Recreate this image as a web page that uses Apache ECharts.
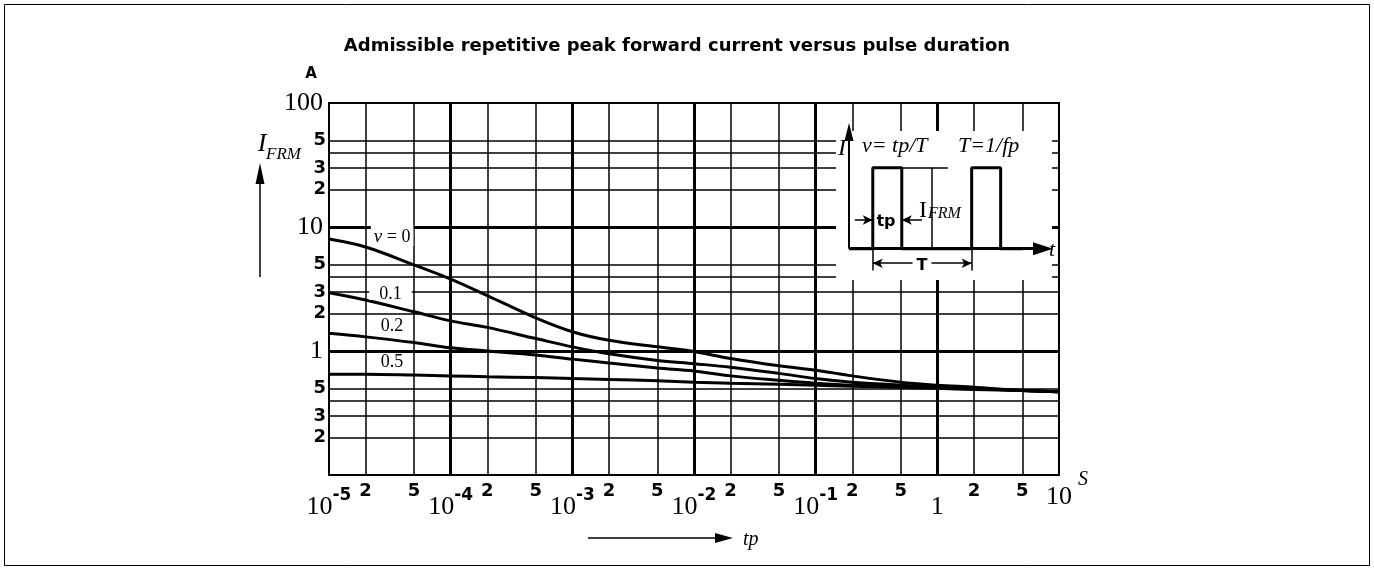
<!DOCTYPE html>
<html><head><meta charset="utf-8">
<script src="https://cdn.jsdelivr.net/npm/echarts@6/dist/echarts.min.js"></script>
<style>html,body{margin:0;padding:0;background:#fff}#c{width:1374px;height:570px}</style>
</head><body><div id="c"></div>
<script>
// pulse duration tp (s)
const tp = [1e-5,2e-5,5e-5,1e-4,2e-4,5e-4,1e-3,2e-3,5e-3,1e-2,2e-2,5e-2,1e-1,2e-1,5e-1,1,2,5,10];
// I_FRM (A) for each duty cycle v
const ifrmV0  = [8.0,6.9,4.95,3.8,2.8,1.85,1.43,1.22,1.08,0.99,0.87,0.76,0.70,0.63,0.56,0.53,0.51,0.48,0.47];
const ifrmV01 = [2.95,2.58,2.07,1.75,1.55,1.26,1.08,0.95,0.84,0.79,0.74,0.66,0.60,0.56,0.53,0.51,0.50,0.48,0.47];
const ifrmV02 = [1.39,1.30,1.17,1.06,1.0,0.93,0.86,0.80,0.73,0.69,0.63,0.58,0.55,0.53,0.52,0.51,0.50,0.48,0.47];
const ifrmV05 = [0.65,0.65,0.64,0.63,0.62,0.61,0.60,0.59,0.575,0.56,0.55,0.54,0.53,0.52,0.51,0.50,0.49,0.48,0.47];
const curveLabels = ['0.1','0.2','0.5'];
// minor grid ticks and labels
const xMinor = [2e-5,5e-5,2e-4,5e-4,2e-3,5e-3,2e-2,5e-2,2e-1,5e-1,2,5];
const xMinorLabels = ['2','5','2','5','2','5','2','5','2','5','2','5'];
const yMinor = [0.2,0.3,0.4,0.5,2,3,4,5,20,30,40,50];
const yMinorLabels = ['2','3','','5','2','3','','5','2','3','','5'];
// inset pulse schematic (time in tp-units, current in I_FRM units)
const pulseT = [0,0.82,0.82,1.82,1.82,4.23,4.23,5.23,5.23,6.0];
const pulseI = [0,0,1,1,0,0,1,1,0,0];

const SERIF = '"Liberation Serif","DejaVu Serif",serif';
const SANS = '"DejaVu Sans","Liberation Sans",sans-serif';

const chart = echarts.init(document.getElementById('c'), null, {renderer:'canvas'});

function mk(t, v){ return t.map((x,i)=>[x, v[i]]); }
function curve(v, lbl){
  return {type:'line', xAxisIndex:0, yAxisIndex:0, data: mk(tp, v), smooth:0.35, symbol:'none',
    lineStyle:{color:'#000', width:3}, z:3, silent:true, animation:false,
    markPoint: lbl ? {symbol:'rect', symbolSize:1, itemStyle:{color:'rgba(0,0,0,0)'}, z:4, silent:true, animation:false,
      data:[lbl]} : undefined};
}
function txt(x, y, text, font, align, extra){
  return Object.assign({type:'text', x:x, y:y, z:30, silent:true,
    style:Object.assign({text:text, font:font, fill:'#000', textAlign:align||'center', textVerticalAlign:'middle',
      align:align||'center', verticalAlign:'middle'}, extra||{})});
}

const gridLines = [];
xMinor.forEach((v,i)=>gridLines.push({xAxis:v, label:{show:true, formatter:xMinorLabels[i], position:'start', distance:7}}));
yMinor.forEach((v,i)=>gridLines.push({yAxis:v, label:{show: !!yMinorLabels[i], formatter:yMinorLabels[i] || ' ', position:'start', distance:3}}));

const option = {
  backgroundColor:'#fff',
  animation:false,
  grid:[
    {left:329, top:103, width:730, height:372, show:true, borderColor:'#000', borderWidth:2, backgroundColor:'transparent', outerBoundsMode:'none'},
    {left:849, top:132, width:194, height:145, show:false, outerBoundsMode:'none'}
  ],
  xAxis:[
    {type:'log', logBase:10, min:1e-5, max:10, gridIndex:0,
     axisLine:{show:true, onZero:false, lineStyle:{color:'#000', width:2}},
     axisTick:{show:false},
     splitLine:{show:true, showMinLine:false, showMaxLine:false, lineStyle:{color:'#000', width:3}},
     axisLabel:{margin:12, color:'#000',
       formatter:function(v){ const e = Math.round(Math.log10(v));
         if (e < 0) return '{b|10}{s|' + e + '}';
         if (e === 0) return '{b|1}';
         return '{c|10}'; },
       rich:{
         b:{fontFamily:SERIF, fontSize:26, lineHeight:40, color:'#000'},
         s:{fontFamily:SANS, fontWeight:'bold', fontSize:17, lineHeight:12, verticalAlign:'top', color:'#000'},
         c:{fontFamily:SERIF, fontSize:26, lineHeight:20, color:'#000'}
       }}},
    {type:'value', min:0, max:6.69, gridIndex:1, show:false}
  ],
  yAxis:[
    {type:'log', logBase:10, min:0.1, max:100, gridIndex:0,
     axisLine:{show:true, onZero:false, lineStyle:{color:'#000', width:2}},
     axisTick:{show:false},
     splitLine:{show:true, showMinLine:false, showMaxLine:false, lineStyle:{color:'#000', width:3}},
     axisLabel:{margin:6, color:'#000', fontFamily:SERIF, fontSize:26,
       formatter:function(v){ return v < 0.5 ? '' : String(Math.round(v)); }}},
    {type:'value', min:-0.35, max:1.44, gridIndex:1, show:false}
  ],
  series:[
    curve(ifrmV0, {coord:[3.3e-5, 8.55], label:{show:true, position:'inside', formatter:'{i|v}{n| = 0}',
      backgroundColor:'#fff', padding:[5,3,2,3],
      rich:{i:{fontFamily:SERIF, fontStyle:'italic', fontSize:19, lineHeight:14, color:'#000'},
            n:{fontFamily:SERIF, fontSize:18, lineHeight:14, color:'#000'}}}}),
    curve(ifrmV01, {coord:[3.2e-5, 2.88], label:{show:true, position:'inside', formatter:curveLabels[0],
      fontFamily:SERIF, fontSize:18, lineHeight:12, color:'#000', backgroundColor:'#fff', padding:[0,10,0,10]}}),
    curve(ifrmV02, {coord:[3.3e-5, 1.59], label:{show:true, position:'inside', formatter:curveLabels[1],
      fontFamily:SERIF, fontSize:18, color:'#000'}}),
    Object.assign(curve(ifrmV05, {coord:[3.3e-5, 0.81], label:{show:true, position:'inside', formatter:curveLabels[2],
      fontFamily:SERIF, fontSize:18, color:'#000'}}), {
      markLine:{silent:true, z:1, animation:false, symbol:['none','none'], precision:10,
        lineStyle:{color:'#000', width:1.5, type:'solid'},
        label:{show:true, color:'#000', fontFamily:SANS, fontWeight:'bold', fontSize:18},
        emphasis:{disabled:true},
        data:gridLines}
    }),
    {type:'line', xAxisIndex:1, yAxisIndex:1, data:mk(pulseT, pulseI), symbol:'none',
     lineStyle:{color:'#000', width:3}, z:20, silent:true, animation:false,
     markLine:{silent:true, z:20, animation:false, symbol:['none','none'], precision:10,
       lineStyle:{color:'#000', width:1.5, type:'solid'}, label:{show:false}, emphasis:{disabled:true},
       data:[
         [{coord:[0,0]},{coord:[0,1.44], symbol:'triangle', symbolSize:[9,18], lineStyle:{width:2}}],
         [{coord:[0,0], lineStyle:{width:3}},{coord:[6.69,0], symbol:'triangle', symbolSize:[13,20], lineStyle:{width:3}}],
         [{coord:[1.82,1]},{coord:[3.41,1]}],
         [{coord:[2.85,0]},{coord:[2.85,1]}],
         [{coord:[0.2,0.354]},{coord:[0.82,0.354], symbol:'arrow', symbolSize:[7,10]}],
         [{coord:[2.52,0.354]},{coord:[1.82,0.354], symbol:'arrow', symbolSize:[7,10]}],
         [{coord:[0.82,-0.18], symbol:'arrow', symbolSize:[7,10]},{coord:[4.23,-0.18], symbol:'arrow', symbolSize:[7,10]}],
         [{coord:[0.82,0]},{coord:[0.82,-0.27]}],
         [{coord:[4.23,0]},{coord:[4.23,-0.27]}]
       ]}}
  ],
  graphic:[
    {type:'rect', z:0, silent:true, shape:{x:4.5, y:4.5, width:1365, height:561}, style:{fill:'none', stroke:'#000', lineWidth:1}},
    {type:'rect', z:10, silent:true, shape:{x:836, y:131, width:216, height:149}, style:{fill:'#fff'}},
    txt(677, 46, 'Admissible repetitive peak forward current versus pulse duration', 'bold 18px ' + SANS),
    txt(311, 74, 'A', 'bold 15px ' + SANS),
    txt(262, 144, 'I', 'italic 26px ' + SERIF),
    txt(266, 155, 'FRM', 'italic 17px ' + SERIF, 'left'),
    {type:'line', z:30, silent:true, shape:{x1:260, y1:277, x2:260, y2:180}, style:{stroke:'#000', lineWidth:1.5}},
    {type:'polygon', z:30, silent:true, shape:{points:[[260,163],[255.5,184],[264.5,184]]}, style:{fill:'#000'}},
    {type:'line', z:30, silent:true, shape:{x1:588, y1:538, x2:718, y2:538}, style:{stroke:'#000', lineWidth:1.5}},
    {type:'polygon', z:30, silent:true, shape:{points:[[733,538],[715,533],[715,543]]}, style:{fill:'#000'}},
    txt(743, 540, 'tp', 'italic 20px ' + SERIF, 'left'),
    txt(1078, 480, 'S', 'italic 20px ' + SERIF, 'left'),
    // inset texts
    txt(842, 149, 'I', 'italic 24px ' + SERIF),
    txt(862, 146, 'v= tp/T', 'italic 22px ' + SERIF, 'left'),
    txt(958, 146, 'T=1/fp', 'italic 22px ' + SERIF, 'left'),
    txt(886, 222, 'tp', 'bold 16px ' + SANS),
    txt(919, 211, 'I', '24px ' + SERIF, 'left'),
    txt(928, 214, 'FRM', 'italic 16px ' + SERIF, 'left'),
    txt(922, 266, 'T', 'bold 16px ' + SANS, 'center', {backgroundColor:'#fff', padding:[0,4]}),
    txt(1049, 250, 't', 'italic 22px ' + SERIF, 'left')
  ]
};
chart.setOption(option);
</script></body></html>
